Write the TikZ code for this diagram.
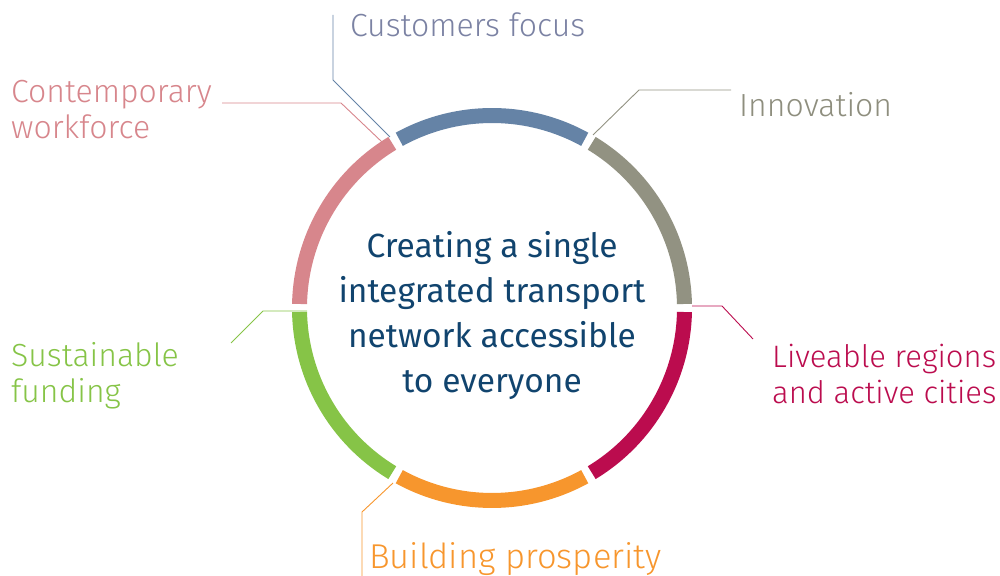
\documentclass[tikz,border=0pt]{standalone}
\usepackage{fontspec}
\setmainfont{Fira Sans}
\newfontfamily\lightfont{Fira Sans Light}
\begin{document}
\begin{tikzpicture}[x=1pt,y=1pt,
  seg/.style={line width=15pt},
  leader/.style={line width=0.9pt},
  lbl/.style={anchor=base west,inner sep=0pt,font=\lightfont\fontsize{32}{36}\selectfont},
  ctr/.style={anchor=base,inner sep=0pt,text=navyc,font=\fontsize{33.5}{45}\selectfont}]
\definecolor{bluec}{HTML}{6583A6}
\definecolor{bluet}{HTML}{7B82A3}
\definecolor{olivec}{HTML}{929282}
\definecolor{olivet}{HTML}{8E8E7E}
\definecolor{crimc}{HTML}{BB0C4E}
\definecolor{orangec}{HTML}{F7962D}
\definecolor{greenc}{HTML}{86C447}
\definecolor{pinkc}{HTML}{D7868C}
\definecolor{navyc}{HTML}{11446E}
\useasboundingbox (0,0) rectangle (1000,575);

\coordinate (O) at (492,267);
\def\rr{192.5}

% leader lines (drawn under the ring)
\coordinate (cf0) at (333,560); \coordinate (cf1) at (333,495); \coordinate (cf2) at (390,438);
\coordinate (in0) at (593,440); \coordinate (in1) at (639,485); \coordinate (in2) at (731,485);
\coordinate (cw0) at (222,472); \coordinate (cw1) at (341,472); \coordinate (cw2) at (382,433);
\coordinate (sf0) at (231,232); \coordinate (sf1) at (263,264); \coordinate (sf2) at (307,264);
\coordinate (lr0) at (692,269); \coordinate (lr1) at (722,269); \coordinate (lr2) at (753,236);
\coordinate (bp0) at (393,92);  \coordinate (bp1) at (362,63);  \coordinate (bp2) at (362,-2);
\draw[leader,bluec] (cf0) -- (cf1) -- (cf2);
\draw[leader,olivec] (in0) -- (in1) -- (in2);
\draw[leader,pinkc] (cw0) -- (cw1) -- (cw2);
\draw[leader,greenc] (sf0) -- (sf1) -- (sf2);
\draw[leader,crimc] (lr0) -- (lr1) -- (lr2);
\draw[leader,orangec] (bp0) -- (bp1) -- (bp2);

% ring of six segments
\foreach \a/\c in {0/olivec,60/bluec,120/pinkc,180/greenc,240/orangec,300/crimc}{
  \draw[seg,\c] (O) ++(\a+1.2:\rr) arc[start angle=\a+1.2,end angle=\a+58.8,radius=\rr];
}

% labels
\node[lbl,text=bluet] (cust) at (350,538) {Customers focus};
\node[lbl,text=olivet] (innov) at (739,458) {Innovation};
\node[lbl,text=pinkc] (cont1) at (11,472) {Contemporary};
\node[lbl,text=pinkc] (cont2) at (11,436) {workforce};
\node[lbl,text=greenc] (sust1) at (11,208) {Sustainable};
\node[lbl,text=greenc] (sust2) at (11,172) {funding};
\node[lbl,text=crimc,font=\lightfont\fontsize{31}{36}\selectfont] (live1) at (772,207) {Liveable regions};
\node[lbl,text=crimc,font=\lightfont\fontsize{31}{36}\selectfont] (live2) at (772,171) {and active cities};
\node[lbl,text=orangec,font=\lightfont\fontsize{34.5}{36}\selectfont] (build) at (369,7) {Building prosperity};

% centre statement
\node[ctr] (ct1) at (492,317) {Creating a single};
\node[ctr] (ct2) at (492,272) {integrated transport};
\node[ctr] (ct3) at (492,227) {network accessible};
\node[ctr] (ct4) at (492,182) {to everyone};
\end{tikzpicture}
\end{document}
